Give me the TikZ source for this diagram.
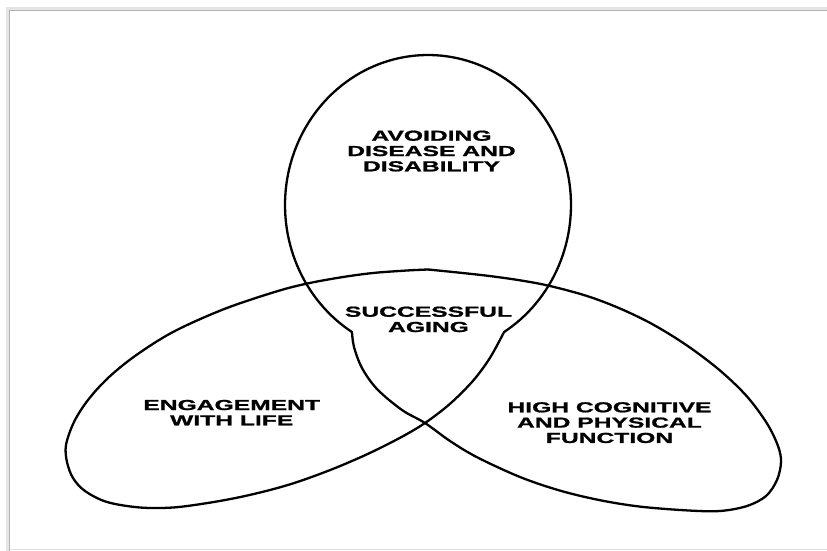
\documentclass[tikz,border=0pt]{standalone}
\usepackage{fontspec}
\newfontfamily\lblfont{Liberation Sans}[FakeStretch=1.70, FakeBold=1.2]
\begin{document}
\begin{tikzpicture}[x=1pt, y=-1pt,
  curve/.style={line width=2.3pt, line join=round, line cap=round, black},
  lbl/.style={font=\lblfont\bfseries\fontsize{14.5}{15.3}\selectfont, align=center, inner sep=0pt, anchor=north}]
\fill[white] (0,0) rectangle (827,551);
\useasboundingbox (0,0) rectangle (827,551);
% frame with soft shadow
\draw[black!10, line width=3pt] (7.5,560) -- (7.5,8.5) -- (840,8.5);
\draw[black!30, line width=1.2pt] (9.5,560) -- (9.5,10.5) -- (840,10.5);
\draw[black!12, line width=1pt] (9.5,549.5) -- (840,549.5);
% key points
\coordinate (cusp) at (428,269.5);
\coordinate (nl) at (352,332.1);
\coordinate (nr) at (504,332.1);
\coordinate (xc) at (425,423);
% top lobe
\draw[curve] plot[domain=-57.9:237.9, samples=140, variable=\t] ({428+143*cos(\t)}, {205-150*sin(\t)});
% left lobe
\draw[curve] plot[smooth, tension=0.55] coordinates {(cusp) (407,270.5) (373,273) (340,277.5) (305,284) (273,292.5) (223,309.5) (173,332) (135,356) (108,378) (88,400) (74,422) (66,445) (67,462) (73,478) (85,491) (107,502) (140,507.5) (173,507.5) (207,503.1) (240,497.1) (273,489.2) (300,481.1) (333,468.9) (367,454.3) (400,437.8) (xc) (450,403.8) (473,380.8) (490,357.8) (nr)};
% right lobe
\draw[curve] plot[smooth, tension=0.55] coordinates {(cusp) (453,272) (487,275.7) (520,280.3) (550,286) (587,296) (620,308.5) (653,324.5) (687,345.5) (720,370.5) (747,396.5) (767,423.5) (778,446) (781,462) (777,480) (766,496) (747,506) (720,511) (687,510.4) (640,506.6) (600,500.2) (560,490.6) (520,477) (477,457.2) (450,441) (xc) (402,410) (377,389) (362,368) (354,347) (nl)};
% labels
\node[lbl] (avoid) at (431.5,130.4) {AVOIDING\\DISEASE AND\\DISABILITY};
\node[lbl] (succ) at (428.5,306.4) {SUCCESSFUL\\AGING};
\node[lbl] (eng) at (231.7,399.7) {ENGAGEMENT\\WITH LIFE};
\node[lbl] (high) at (609.5,402) {HIGH COGNITIVE\\AND PHYSICAL\\FUNCTION};
\end{tikzpicture}
\end{document}
